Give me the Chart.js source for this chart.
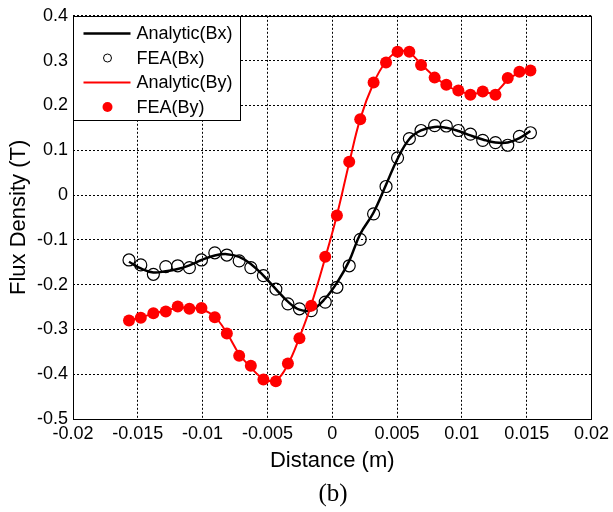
<!DOCTYPE html>
<html>
<head>
<meta charset="utf-8">
<script src="https://cdn.jsdelivr.net/npm/chart.js@4"></script>
<style>
  body { margin: 0; background: #fff; }
  canvas { display: block; }
</style>
</head>
<body>
<canvas id="fluxChart" width="613" height="512"></canvas>
<script>
const ctx = document.getElementById('fluxChart').getContext('2d');

// sample positions along the path (m)
const distance = [
  -0.01568, -0.01477, -0.01380, -0.01284, -0.01192, -0.01102, -0.01009, -0.00906, -0.00813,
  -0.00718, -0.00628, -0.00531, -0.00435, -0.00342, -0.00253, -0.00162, -0.00054, 0.00036,
  0.00131, 0.00216, 0.00319, 0.00415, 0.00504, 0.00595, 0.00685, 0.00790, 0.00880,
  0.00973, 0.01066, 0.01161, 0.01259, 0.01354, 0.01444, 0.01529,
];

const analyticBx = [
  -0.149, -0.164, -0.173, -0.170, -0.165, -0.157, -0.145, -0.135, -0.132,
  -0.138, -0.154, -0.180, -0.210, -0.238, -0.256, -0.257, -0.231, -0.196,
  -0.147, -0.087, -0.039, 0.023, 0.081, 0.125, 0.144, 0.152, 0.150,
  0.143, 0.133, 0.124, 0.117, 0.117, 0.127, 0.143,
];
const feaBx = [
  -0.145, -0.156, -0.177, -0.160, -0.158, -0.162, -0.145, -0.129, -0.134,
  -0.147, -0.162, -0.180, -0.210, -0.243, -0.254, -0.258, -0.239, -0.206,
  -0.158, -0.099, -0.042, 0.019, 0.083, 0.126, 0.144, 0.155, 0.154,
  0.144, 0.136, 0.122, 0.117, 0.111, 0.131, 0.139,
];
const analyticBy = [
  -0.280, -0.273, -0.265, -0.258, -0.252, -0.252, -0.255, -0.272, -0.308,
  -0.355, -0.385, -0.410, -0.414, -0.378, -0.318, -0.245, -0.140, -0.045,
  0.072, 0.170, 0.250, 0.298, 0.320, 0.318, 0.292, 0.264, 0.245,
  0.232, 0.226, 0.228, 0.230, 0.257, 0.273, 0.280,
];
const feaBy = [
  -0.280, -0.274, -0.264, -0.260, -0.249, -0.254, -0.252, -0.273, -0.309,
  -0.359, -0.381, -0.412, -0.416, -0.376, -0.320, -0.247, -0.138, -0.046,
  0.074, 0.169, 0.251, 0.296, 0.320, 0.320, 0.290, 0.262, 0.246,
  0.233, 0.224, 0.231, 0.224, 0.261, 0.275, 0.278,
];

const xTicks = [-0.02, -0.015, -0.01, -0.005, 0, 0.005, 0.01, 0.015, 0.02];
const xTickLabels = ['-0.02', '-0.015', '-0.01', '-0.005', '0', '0.005', '0.01', '0.015', '0.02'];
const yTicks = [-0.5, -0.4, -0.3, -0.2, -0.1, 0, 0.1, 0.2, 0.3, 0.4];
const yTickLabels = ['-0.5', '-0.4', '-0.3', '-0.2', '-0.1', '0', '0.1', '0.2', '0.3', '0.4'];

const legendItems = [
  { label: 'Analytic(Bx)', kind: 'line', color: '#000' },
  { label: 'FEA(Bx)', kind: 'open', color: '#000' },
  { label: 'Analytic(By)', kind: 'line', color: '#ff0000' },
  { label: 'FEA(By)', kind: 'filled', color: '#ff0000' },
];

function toPoints(ys) {
  return distance.map((x, i) => ({ x: x, y: ys[i] }));
}

const SANS = '"Liberation Sans", Arial, sans-serif';

// box round the plot, MATLAB legend and the (b) caption
const extras = {
  id: 'extras',
  afterDraw(chart) {
    const c = chart.ctx;
    const a = chart.chartArea;
    c.save();
    c.strokeStyle = '#000';
    c.lineWidth = 1;
    c.setLineDash([]);
    c.strokeRect(Math.round(a.left) + 0.5, Math.round(a.top) + 0.5,
      Math.round(a.right - a.left), Math.round(a.bottom - a.top));

    // legend
    const lx = Math.round(a.left) + 0.5, ly = Math.round(a.top) + 0.5;
    c.fillStyle = '#fff';
    c.fillRect(lx, ly, 167, 104);
    c.strokeRect(lx, ly, 167, 104);
    c.font = '18px ' + SANS;
    c.textBaseline = 'middle';
    c.textAlign = 'left';
    legendItems.forEach((item, i) => {
      const y = ly + 17 + i * 24.5;
      if (item.kind === 'line') {
        c.strokeStyle = item.color;
        c.lineWidth = item.color === '#000' ? 2.5 : 2;
        c.beginPath();
        c.moveTo(lx + 10, y);
        c.lineTo(lx + 57, y);
        c.stroke();
      } else {
        c.beginPath();
        c.arc(lx + 34, y, item.kind === 'open' ? 4 : 5, 0, Math.PI * 2);
        if (item.kind === 'open') {
          c.strokeStyle = item.color;
          c.lineWidth = 1;
          c.stroke();
        } else {
          c.fillStyle = item.color;
          c.fill();
        }
      }
      c.fillStyle = '#000';
      c.fillText(item.label, lx + 63, y + 1);
    });

    c.font = '25px "Liberation Serif", "Times New Roman", serif';
    c.textAlign = 'center';
    c.fillStyle = '#000';
    c.fillText('(b)', 333, 494);
    c.restore();
  },
};

const fluxChart = new Chart(ctx, {
  type: 'scatter',
  data: {
    datasets: [
      {
        label: 'Analytic(Bx)',
        data: toPoints(analyticBx),
        showLine: true,
        borderColor: '#000',
        borderWidth: 2.5,
        pointRadius: 0,
        tension: 0.4,
        order: 4,
      },
      {
        label: 'FEA(Bx)',
        data: toPoints(feaBx),
        showLine: false,
        pointRadius: 6,
        pointBorderWidth: 1.2,
        pointBorderColor: '#000',
        pointBackgroundColor: 'rgba(0,0,0,0)',
        order: 3,
      },
      {
        label: 'Analytic(By)',
        data: toPoints(analyticBy),
        showLine: true,
        borderColor: '#ff0000',
        borderWidth: 2,
        pointRadius: 0,
        tension: 0.4,
        order: 2,
      },
      {
        label: 'FEA(By)',
        data: toPoints(feaBy),
        showLine: false,
        pointRadius: 6,
        pointBorderWidth: 0,
        pointBackgroundColor: '#ff0000',
        pointBorderColor: '#ff0000',
        order: 1,
      },
    ],
  },
  options: {
    responsive: false,
    animation: false,
    events: [],
    layout: { padding: { top: 13, right: 21, left: 0, bottom: 0 } },
    plugins: {
      legend: { display: false },
      tooltip: { enabled: false },
    },
    scales: {
      x: {
        type: 'linear',
        min: -0.02,
        max: 0.02,
        afterBuildTicks: (scale) => { scale.ticks = xTicks.map((v) => ({ value: v })); },
        afterFit: (scale) => { scale.height = 93; },
        ticks: {
          color: '#000',
          font: { family: SANS, size: 18 },
          padding: 4,
          maxRotation: 0,
          autoSkip: false,
          callback: (v, i) => xTickLabels[i],
        },
        grid: { color: '#000', lineWidth: 1, drawTicks: false },
        border: { display: false, dash: [2, 2] },
        title: {
          display: true,
          text: 'Distance (m)',
          color: '#000',
          font: { family: SANS, size: 22 },
          padding: { top: 0, bottom: 38 },
        },
      },
      y: {
        type: 'linear',
        min: -0.5,
        max: 0.4,
        afterBuildTicks: (scale) => { scale.ticks = yTicks.map((v) => ({ value: v })); },
        afterFit: (scale) => { scale.width = 73; },
        ticks: {
          color: '#000',
          font: { family: SANS, size: 18 },
          padding: 5,
          autoSkip: false,
          callback: (v, i) => yTickLabels[i],
        },
        grid: { color: '#000', lineWidth: 1, drawTicks: false },
        border: { display: false, dash: [2, 2] },
        title: {
          display: true,
          text: 'Flux Density (T)',
          color: '#000',
          font: { family: SANS, size: 22 },
          padding: { top: 6, bottom: 0 },
        },
      },
    },
  },
  plugins: [extras],
});
</script>
</body>
</html>
